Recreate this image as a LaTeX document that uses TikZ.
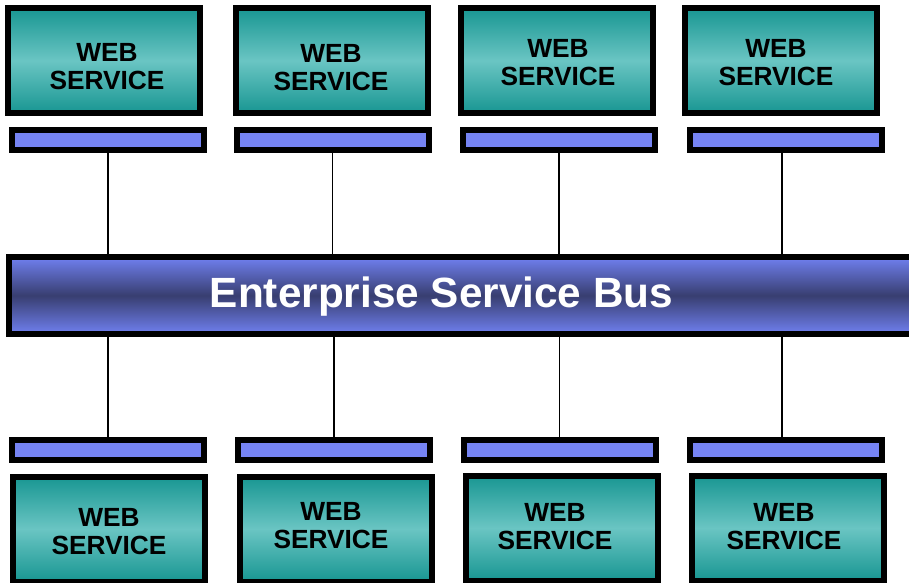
\documentclass[tikz,border=0pt]{standalone}
\usepackage{fontspec}
\setmainfont{Liberation Sans}
\definecolor{tealdark}{RGB}{24,150,146}
\definecolor{teallight}{RGB}{106,197,195}
\definecolor{barblue}{RGB}{118,132,244}
\definecolor{busedge}{RGB}{112,128,240}
\definecolor{busmid}{RGB}{56,62,112}
\tikzset{
  wsbox/.style={draw=black, line width=6pt, top color=tealdark, bottom color=tealdark,
    middle color=teallight, minimum width=192pt, minimum height=105pt, inner sep=0pt},
  wstext/.style={align=center, inner sep=0pt, text=black,
    font=\fontsize{26.3}{28}\selectfont\bfseries},
  barbox/.style={draw=black, line width=6pt, fill=barblue, minimum width=192pt,
    minimum height=20pt, inner sep=0pt},
  busbox/.style={draw=black, line width=6pt, top color=busedge, bottom color=busedge,
    middle color=busmid, minimum width=904pt, minimum height=77pt, inner sep=0pt},
  bustext/.style={text=white, inner sep=0pt, font=\fontsize{42.3}{46}\selectfont\bfseries},
  link/.style={draw=black, line width=1.5pt}
}
\begin{document}
\begin{tikzpicture}[x=1pt,y=-1pt]
\useasboundingbox (0,0) rectangle (909,582);
\clip (0,0) rectangle (909,582);
% bus
\node[busbox] (bus) at (461,295.5) {};
\node[bustext, anchor=base] (bustxt) at (441.5,307) {Enterprise Service Bus};
% top services
\node[wsbox] (t1) at (104,60.5) {};
\node[wsbox] (t2) at (331.5,60.5) {};
\node[wsbox] (t3) at (556.5,60.5) {};
\node[wsbox] (t4) at (780.5,60.5) {};
\node[wstext] (t1txt) at (107,66.5) {WEB\\SERVICE};
\node[wstext] (t2txt) at (331,68) {WEB\\SERVICE};
\node[wstext] (t3txt) at (558,63) {WEB\\SERVICE};
\node[wstext] (t4txt) at (776,63) {WEB\\SERVICE};
\node[barbox] (tb1) at (108,140) {};
\node[barbox] (tb2) at (332.5,140) {};
\node[barbox] (tb3) at (559,140) {};
\node[barbox] (tb4) at (785.5,140) {};
% bottom services
\node[barbox] (bb1) at (108,450) {};
\node[barbox] (bb2) at (334,450) {};
\node[barbox] (bb3) at (559.5,450) {};
\node[barbox] (bb4) at (785.5,450) {};
\node[wsbox] (b1) at (109,529) {};
\node[wsbox] (b2) at (336,529) {};
\node[wsbox] (b3) at (561.5,528) {};
\node[wsbox] (b4) at (788,528) {};
\node[wstext] (b1txt) at (109,532) {WEB\\SERVICE};
\node[wstext] (b2txt) at (331,526) {WEB\\SERVICE};
\node[wstext] (b3txt) at (555,527) {WEB\\SERVICE};
\node[wstext] (b4txt) at (784,527) {WEB\\SERVICE};
% connectors
\foreach \n in {tb1,tb2,tb3}{
  \draw[link] (\n.south) -- (\n.south |- bus.north);
}
\draw[link] ([xshift=-3.5pt]tb4.south) -- ([xshift=-3.5pt]tb4.south |- bus.north);
\foreach \n in {bb1,bb2,bb3}{
  \draw[link] (bus.south -| \n.north) -- (\n.north);
}
\draw[link] ([xshift=-3.5pt]bb4.north |- bus.south) -- ([xshift=-3.5pt]bb4.north);
\end{tikzpicture}
\end{document}
